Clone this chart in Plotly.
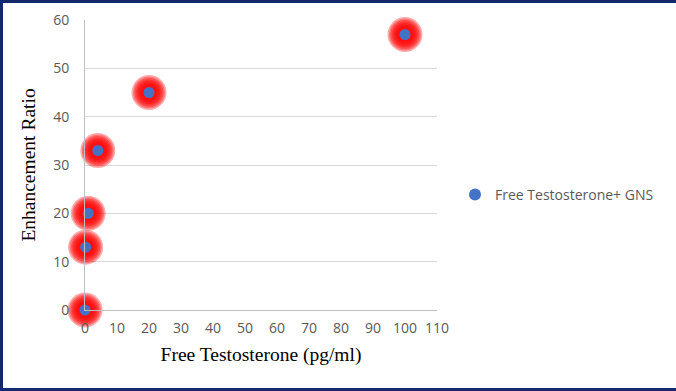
import plotly.graph_objects as go

# Data
free_testosterone = [0, 0.2, 1, 4, 20, 100]
enhancement_ratio = [0, 13, 20, 33, 45, 57]
series_name = "Free Testosterone+ GNS"
x_ticks = list(range(0, 111, 10))
y_ticks = list(range(0, 61, 10))

fig = go.Figure()

# red glow layers
glow_sizes = [35, 32, 29, 26, 23, 20, 17]
for s in glow_sizes:
    fig.add_trace(go.Scatter(
        x=free_testosterone, y=enhancement_ratio, mode="markers",
        marker=dict(size=s, color="rgba(255,0,0,0.32)", line=dict(width=0)),
        showlegend=False, hoverinfo="skip", cliponaxis=False))

fig.add_trace(go.Scatter(
    x=free_testosterone, y=enhancement_ratio, mode="markers", name=series_name,
    marker=dict(size=11, color="#4472C4", line=dict(width=0)),
    cliponaxis=False))

L, R, T, B = 85, 239, 20, 81
W, H = 676, 391
pw, ph = W - L - R, H - T - B

tick_font = dict(family="Open Sans, Liberation Sans, sans-serif", size=14, color="#595959")
title_font = dict(family="Liberation Serif, Times New Roman, serif", size=19.5, color="black")

fig.update_layout(
    width=W, height=H,
    margin=dict(l=L, r=R, t=T, b=B, autoexpand=False),
    paper_bgcolor="white", plot_bgcolor="white",
    showlegend=True,
    legend=dict(x=(455 - L) / pw, y=(310 - 195) / ph, xanchor="left", yanchor="middle",
                font=dict(family="Open Sans, Liberation Sans, sans-serif", size=14, color="#595959"),
                bgcolor="rgba(0,0,0,0)", itemsizing="constant", itemwidth=30),
    xaxis=dict(range=[0, 110], tickvals=x_ticks, showgrid=False, zeroline=False, automargin=False,
               showline=True, linecolor="#bfbfbf", linewidth=1,
               ticks="outside", ticklen=5, tickcolor="rgba(0,0,0,0)",
               tickfont=tick_font,
               title=dict(text="Free Testosterone (pg/ml)", standoff=11, font=title_font)),
    yaxis=dict(range=[0, 60], tickvals=y_ticks, showgrid=True, gridcolor="#d9d9d9", gridwidth=1,
               zeroline=False, showline=True, linecolor="#bfbfbf", linewidth=1, automargin=False,
               ticks="outside", ticklen=12, tickcolor="rgba(0,0,0,0)",
               tickfont=tick_font,
               title=dict(text="Enhancement Ratio", standoff=12, font=title_font)),
    shapes=[dict(type="rect", xref="paper", yref="paper",
                 x0=(1.5 - L) / pw, x1=(W + 5 - L) / pw,
                 y0=(H - B - 389.5) / ph, y1=(H - B - 1.5) / ph,
                 line=dict(color="#14296b", width=3), fillcolor="rgba(0,0,0,0)", layer="above")],
)

fig.write_html("out.html", config={"displayModeBar": False},
               post_script="document.body.style.margin='0';document.body.style.overflow='hidden';")
